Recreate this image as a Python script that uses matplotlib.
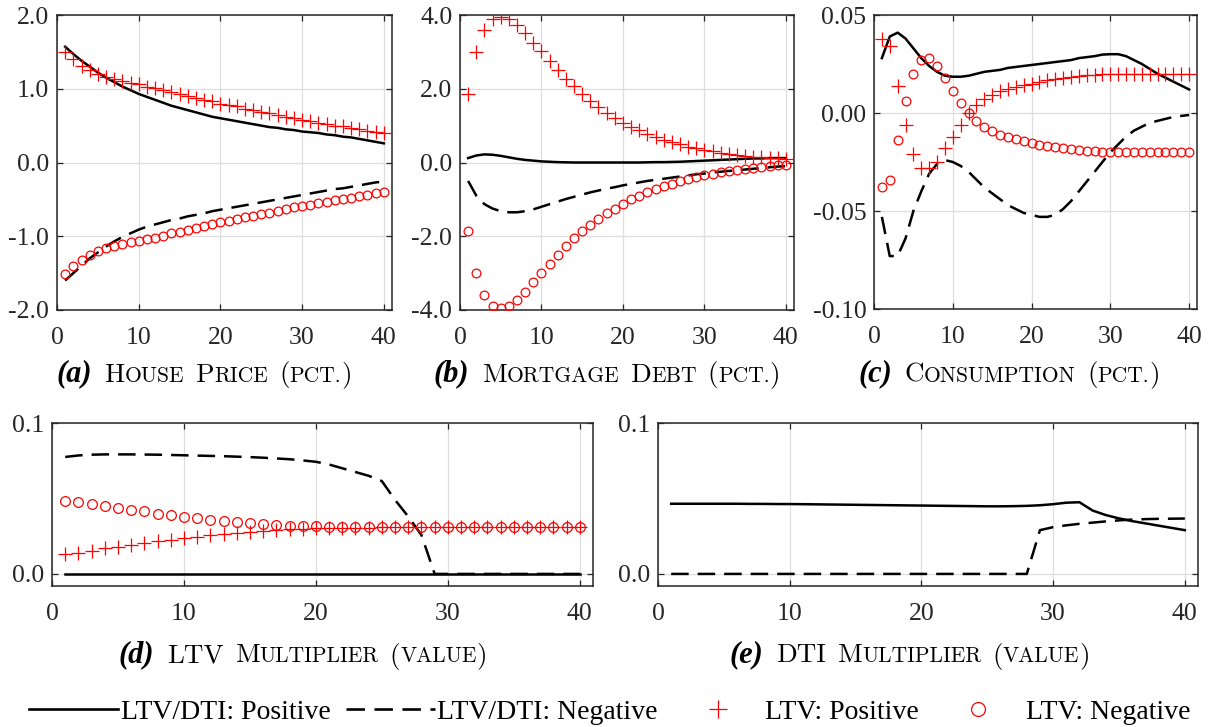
import matplotlib
matplotlib.use("Agg")
import matplotlib.pyplot as plt
from matplotlib.lines import Line2D
from matplotlib.offsetbox import TextArea, HPacker, AnchoredOffsetbox, DrawingArea

plt.rcParams['font.family'] = ['Liberation Serif', 'DejaVu Serif']
plt.rcParams['axes.unicode_minus'] = False

x = list(range(1, 41))

# (a) House price
a_pos = [1.57, 1.47, 1.38, 1.30, 1.22, 1.15, 1.09, 1.03, 0.98, 0.93, 0.89, 0.85, 0.81, 0.77, 0.74,
         0.71, 0.68, 0.65, 0.62, 0.60, 0.58, 0.56, 0.54, 0.52, 0.50, 0.48, 0.47, 0.45, 0.44, 0.42,
         0.41, 0.40, 0.38, 0.37, 0.35, 0.34, 0.32, 0.30, 0.28, 0.26]
a_neg = [-1.60, -1.50, -1.40, -1.30, -1.22, -1.14, -1.07, -1.01, -0.96, -0.91, -0.87, -0.84, -0.81,
         -0.78, -0.76, -0.73, -0.71, -0.69, -0.66, -0.64, -0.62, -0.60, -0.58, -0.56, -0.54, -0.52,
         -0.50, -0.48, -0.46, -0.44, -0.42, -0.40, -0.38, -0.36, -0.35, -0.33, -0.31, -0.29, -0.27, -0.26]
a_ltv_pos = [1.50, 1.40, 1.31, 1.25, 1.20, 1.16, 1.13, 1.10, 1.08, 1.06, 1.03, 1.01, 0.98, 0.95, 0.93,
             0.90, 0.88, 0.85, 0.83, 0.80, 0.78, 0.76, 0.73, 0.71, 0.69, 0.67, 0.65, 0.62, 0.60, 0.58,
             0.56, 0.54, 0.52, 0.50, 0.49, 0.47, 0.45, 0.43, 0.42, 0.40]
a_ltv_neg = [-1.51, -1.41, -1.32, -1.25, -1.20, -1.16, -1.13, -1.11, -1.08, -1.06, -1.04, -1.02, -0.99,
             -0.96, -0.94, -0.91, -0.89, -0.86, -0.84, -0.81, -0.79, -0.77, -0.74, -0.72, -0.70, -0.68,
             -0.66, -0.63, -0.61, -0.59, -0.57, -0.55, -0.53, -0.51, -0.49, -0.48, -0.46, -0.44, -0.42, -0.40]

# (b) Mortgage debt
b_pos = [0.12, 0.19, 0.22, 0.21, 0.18, 0.14, 0.10, 0.07, 0.05, 0.03, 0.02, 0.01, 0.005, 0.0, 0.0,
         0.0, 0.0, 0.0, 0.0, 0.0, 0.0, 0.0, 0.005, 0.01, 0.01, 0.015, 0.02, 0.03, 0.04, 0.05,
         0.06, 0.07, 0.08, 0.09, 0.10, 0.11, 0.11, 0.12, 0.12, 0.12]
b_neg = [-0.50, -0.90, -1.13, -1.25, -1.32, -1.35, -1.35, -1.32, -1.27, -1.20, -1.13, -1.06, -0.99,
         -0.93, -0.87, -0.81, -0.76, -0.71, -0.67, -0.62, -0.58, -0.54, -0.50, -0.47, -0.44, -0.41,
         -0.38, -0.35, -0.32, -0.30, -0.27, -0.25, -0.23, -0.21, -0.19, -0.17, -0.15, -0.13, -0.11, -0.10]
b_ltv_pos = [1.87, 3.00, 3.60, 3.88, 3.95, 3.88, 3.72, 3.50, 3.25, 3.03, 2.76, 2.50, 2.27, 2.07, 1.87,
             1.68, 1.50, 1.34, 1.20, 1.08, 0.97, 0.87, 0.77, 0.69, 0.62, 0.55, 0.49, 0.43, 0.38, 0.34,
             0.30, 0.26, 0.23, 0.20, 0.18, 0.16, 0.14, 0.12, 0.11, 0.10]
b_ltv_neg = [-1.87, -3.00, -3.60, -3.88, -3.95, -3.88, -3.72, -3.50, -3.25, -3.00, -2.75, -2.50, -2.27,
             -2.05, -1.87, -1.70, -1.52, -1.38, -1.25, -1.12, -1.00, -0.90, -0.80, -0.72, -0.64, -0.57,
             -0.50, -0.44, -0.39, -0.34, -0.30, -0.26, -0.23, -0.20, -0.17, -0.15, -0.12, -0.10, -0.08, -0.06]

# (c) Consumption
c_pos = [0.028, 0.039, 0.041, 0.038, 0.033, 0.028, 0.024, 0.021, 0.019, 0.0185, 0.0185, 0.019, 0.020,
         0.021, 0.0215, 0.022, 0.023, 0.0235, 0.024, 0.0245, 0.025, 0.0255, 0.026, 0.0265, 0.027, 0.028,
         0.0285, 0.029, 0.0298, 0.030, 0.0300, 0.029, 0.027, 0.025, 0.0225, 0.020, 0.018, 0.016, 0.014, 0.012]
c_neg = [-0.053, -0.073, -0.073, -0.064, -0.050, -0.040, -0.031, -0.026, -0.024, -0.025, -0.027, -0.030,
         -0.034, -0.038, -0.041, -0.044, -0.047, -0.049, -0.051, -0.052, -0.053, -0.053, -0.052, -0.049,
         -0.045, -0.040, -0.035, -0.030, -0.025, -0.020, -0.016, -0.012, -0.009, -0.007, -0.005, -0.004,
         -0.003, -0.002, -0.0015, -0.001]
c_ltv_pos = [0.038, 0.034, 0.014, -0.006, -0.021, -0.028, -0.028, -0.025, -0.018, -0.012, -0.006, 0.0,
             0.004, 0.007, 0.009, 0.011, 0.012, 0.0135, 0.0145, 0.015, 0.016, 0.0168, 0.0175, 0.018,
             0.0185, 0.019, 0.0193, 0.0196, 0.0198, 0.020, 0.020, 0.020, 0.020, 0.020, 0.020, 0.020,
             0.020, 0.020, 0.020, 0.020]
c_ltv_neg = [-0.038, -0.034, -0.014, 0.006, 0.020, 0.027, 0.028, 0.024, 0.018, 0.011, 0.005, 0.0,
             -0.004, -0.007, -0.009, -0.011, -0.012, -0.0135, -0.0145, -0.0155, -0.0163, -0.017, -0.0175,
             -0.018, -0.0185, -0.019, -0.0193, -0.0196, -0.0198, -0.020, -0.020, -0.020, -0.020, -0.020,
             -0.020, -0.020, -0.020, -0.020, -0.020, -0.020]

# (d) LTV multiplier
d_pos = [0.0] * 40
d_neg = [0.0775, 0.0785, 0.0790, 0.0792, 0.0792, 0.0792, 0.0791, 0.0790, 0.0788, 0.0786, 0.0784,
         0.0782, 0.0780, 0.0777, 0.0774, 0.0770, 0.0765, 0.0760, 0.0752, 0.0743, 0.0725, 0.0700,
         0.0675, 0.0650, 0.0615, 0.0490, 0.0380, 0.0257, 0.0, 0.0, 0.0, 0.0, 0.0, 0.0, 0.0, 0.0,
         0.0, 0.0, 0.0, 0.0]
d_ltv_pos = [0.0130, 0.0140, 0.0155, 0.0170, 0.0180, 0.0190, 0.0205, 0.0215, 0.0225, 0.0235, 0.0245,
             0.0255, 0.0265, 0.0270, 0.0278, 0.0285, 0.0290, 0.0295, 0.0300, 0.0302, 0.0304, 0.0305,
             0.0306, 0.0307, 0.0308, 0.0308, 0.0309, 0.0309, 0.0310, 0.0310, 0.0310, 0.0310, 0.0310,
             0.0310, 0.0310, 0.0310, 0.0310, 0.0310, 0.0310, 0.0310]
d_ltv_neg = [0.0480, 0.0475, 0.0465, 0.0450, 0.0440, 0.0425, 0.0415, 0.0400, 0.0390, 0.0380, 0.0370,
             0.0360, 0.0350, 0.0345, 0.0338, 0.0330, 0.0325, 0.0320, 0.0318, 0.0315, 0.0313, 0.0312,
             0.0311, 0.0310, 0.0310, 0.0310, 0.0310, 0.0310, 0.0310, 0.0310, 0.0310, 0.0310, 0.0310,
             0.0310, 0.0310, 0.0310, 0.0310, 0.0310, 0.0310, 0.0310]

# (e) DTI multiplier
e_pos = [0.0465, 0.0465, 0.0465, 0.0465, 0.0465, 0.0465, 0.0464, 0.0464, 0.0463, 0.0463, 0.0462,
         0.0461, 0.0460, 0.0459, 0.0458, 0.0457, 0.0456, 0.0455, 0.0454, 0.0453, 0.0452, 0.0451,
         0.0450, 0.0449, 0.0448, 0.0448, 0.0449, 0.0451, 0.0455, 0.0462, 0.0472, 0.0475, 0.0420,
         0.0390, 0.0368, 0.0350, 0.0335, 0.0320, 0.0305, 0.0290]
e_neg = [0.0] * 28 + [0.0290, 0.0310, 0.0322, 0.0332, 0.0340, 0.0348, 0.0355, 0.0360, 0.0363,
                      0.0365, 0.0366, 0.0367]

captions = [
    ("(a)", "House Price (pct.)"),
    ("(b)", "Mortgage Debt (pct.)"),
    ("(c)", "Consumption (pct.)"),
    ("(d)", "LTV Multiplier (value)"),
    ("(e)", "DTI Multiplier (value)"),
]
yticks = [[-2.0, -1.0, 0.0, 1.0, 2.0], [-4.0, -2.0, 0.0, 2.0, 4.0],
          [-0.10, -0.05, 0.00, 0.05], [0.0, 0.1], [0.0, 0.1]]
ylims = [(-2.0, 2.0), (-4.0, 4.0), (-0.10, 0.05), (-0.008, 0.1), (-0.008, 0.1)]
yfmt = ["%.1f", "%.1f", "%.2f", "%.1f", "%.1f"]
xticks = [0, 10, 20, 30, 40]
legend_labels = ["LTV/DTI: Positive", "LTV/DTI: Negative", "LTV: Positive", "LTV: Negative"]

W, H = 1212, 727
fig = plt.figure(figsize=(W / 100, H / 100), dpi=100)

boxes = [(57, 392, 15, 310), (460, 794, 15, 310), (874, 1197, 15, 309),
         (52, 593, 423, 586), (658, 1198, 423, 586)]
cap_pos = [(204, 374), (607, 374), (1009, 374), (303, 655), (910, 655)]
# marker sizes (circle, plus) per panel
msizes = [(6.3, 10), (6.3, 10), (6.3, 10), (7.0, 10.5), (7.0, 10.5)]

data = [(a_pos, a_neg, a_ltv_pos, a_ltv_neg), (b_pos, b_neg, b_ltv_pos, b_ltv_neg),
        (c_pos, c_neg, c_ltv_pos, c_ltv_neg), (d_pos, d_neg, d_ltv_pos, d_ltv_neg),
        (e_pos, e_neg, None, None)]

DASH = (0, (7, 3.6))
FS = 18.5
spine_col = '#262626'

for i, (l, r, t, b) in enumerate(boxes):
    ax = fig.add_axes([l / W, 1 - b / H, (r - l) / W, (b - t) / H])
    pos, neg, lp, ln = data[i]
    ax.plot(x, pos, color='black', lw=1.8, zorder=3)
    ax.plot(x, neg, color='black', lw=1.8, linestyle=DASH, zorder=3)
    if lp is not None:
        ax.plot(x, ln, linestyle='none', marker='o', markersize=msizes[i][0], markerfacecolor='none',
                markeredgecolor='red', markeredgewidth=0.9, zorder=4)
        ax.plot(x, lp, linestyle='none', marker='+', markersize=msizes[i][1], color='red',
                markeredgewidth=0.9, zorder=4)
    ax.set_xlim(0, 41)
    ax.set_ylim(*ylims[i])
    ax.set_xticks(xticks)
    ax.set_yticks(yticks[i])
    ax.set_yticklabels([yfmt[i] % v for v in yticks[i]])
    ax.grid(True, color='#dedede', lw=0.9)
    ax.set_axisbelow(True)
    ax.tick_params(direction='in', length=4, width=0.9, color=spine_col, labelsize=FS,
                   top=True, right=True, labelcolor='#262626')
    ax.tick_params(axis='y', pad=5.5)
    ax.tick_params(axis='x', pad=12)
    for s in ax.spines.values():
        s.set_color(spine_col)
        s.set_linewidth(1.1)

BIG = 19.5
SMALL = 15.5
CAPFONT = 'cmr10'


def caption(label, text, xc, yc):
    children = [TextArea(label, textprops=dict(fontsize=22, fontweight='bold', fontstyle='italic',
                                               family='Liberation Serif'))]
    runs = []
    for ch in text:
        if ch == ' ':
            kind = 'space'
        elif ch.islower() or ch == '.':
            kind = 'small'
        else:
            kind = 'big'
        if runs and runs[-1][0] == kind:
            runs[-1][1] += ch
        else:
            runs.append([kind, ch])
    children.append(DrawingArea(9, 1))
    for kind, s in runs:
        if kind == 'space':
            children.append(DrawingArea(8 * len(s), 1))
        elif kind == 'small':
            children.append(TextArea(s.upper(), textprops=dict(fontsize=SMALL, family=CAPFONT)))
        else:
            children.append(TextArea(s, textprops=dict(fontsize=BIG, family=CAPFONT)))
    pack = HPacker(children=children, align='baseline', pad=0, sep=0)
    box = AnchoredOffsetbox(loc='center', child=pack, pad=0, borderpad=0, frameon=False,
                            bbox_to_anchor=(xc / W, 1 - yc / H), bbox_transform=fig.transFigure)
    fig.add_artist(box)


for (lab, txt), (xc, yc) in zip(captions, cap_pos):
    caption(lab, txt, xc, yc)

handles = [Line2D([], [], color='black', lw=1.9),
           Line2D([], [], color='black', lw=1.9, linestyle=DASH),
           Line2D([], [], linestyle='none', marker='+', markersize=13, color='red', markeredgewidth=0.9),
           Line2D([], [], linestyle='none', marker='o', markersize=10, markerfacecolor='none',
                  markeredgecolor='red', markeredgewidth=0.9)]
fig.legend(handles, legend_labels, loc='center', bbox_to_anchor=(609.5 / W, 1 - 712 / H), ncol=4,
           frameon=False, handlelength=3.2, handletextpad=0.1, columnspacing=0.55, fontsize=20,
           borderpad=0, borderaxespad=0)

fig.savefig("out.png", dpi=100)
